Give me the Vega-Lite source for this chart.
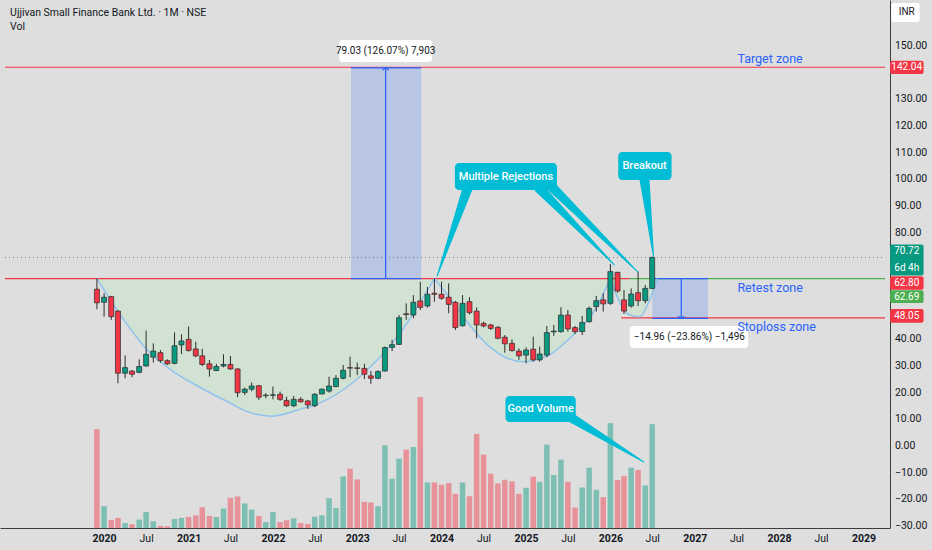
{
  "$schema": "https://vega.github.io/schema/vega-lite/v6.json",
  "width": 890,
  "height": 528,
  "autosize": "none",
  "padding": {"left": 0, "top": 0, "right": 42, "bottom": 22},
  "background": "#dedede",
  "config": {
    "view": {"stroke": null},
    "font": "Roboto",
    "axis": {"grid": false, "ticks": false, "domainColor": "#3c3c3c", "labelColor": "#131722", "labelFontSize": 10.5, "labelFont": "Roboto"}
  },
  "datasets": {
    "candles": [
      {"date": "2019-12-01", "o": 58.8, "h": 62.8, "l": 51.3, "c": 53.7, "v": 295},
      {"date": "2020-01-01", "o": 53.9, "h": 57.3, "l": 48.5, "c": 55.8, "v": 65},
      {"date": "2020-02-01", "o": 56.0, "h": 56.3, "l": 47.3, "c": 48.5, "v": 24},
      {"date": "2020-03-01", "o": 50.6, "h": 51.0, "l": 23.5, "c": 27.3, "v": 30},
      {"date": "2020-04-01", "o": 27.3, "h": 34.0, "l": 25.4, "c": 29.4, "v": 15},
      {"date": "2020-05-01", "o": 28.1, "h": 28.5, "l": 25.8, "c": 26.9, "v": 11},
      {"date": "2020-06-01", "o": 27.6, "h": 32.5, "l": 27.3, "c": 29.8, "v": 25},
      {"date": "2020-07-01", "o": 30.0, "h": 43.3, "l": 29.8, "c": 34.4, "v": 48},
      {"date": "2020-08-01", "o": 33.3, "h": 38.5, "l": 31.3, "c": 35.6, "v": 20},
      {"date": "2020-09-01", "o": 35.0, "h": 36.0, "l": 31.3, "c": 32.0, "v": 6},
      {"date": "2020-10-01", "o": 32.0, "h": 32.5, "l": 30.4, "c": 30.8, "v": 5},
      {"date": "2020-11-01", "o": 31.0, "h": 42.6, "l": 30.6, "c": 37.6, "v": 27},
      {"date": "2020-12-01", "o": 37.9, "h": 41.9, "l": 34.5, "c": 39.4, "v": 30},
      {"date": "2021-01-01", "o": 40.0, "h": 44.8, "l": 35.4, "c": 35.8, "v": 33},
      {"date": "2021-02-01", "o": 36.4, "h": 39.1, "l": 33.3, "c": 33.8, "v": 38},
      {"date": "2021-03-01", "o": 33.8, "h": 36.4, "l": 30.0, "c": 30.6, "v": 62},
      {"date": "2021-04-01", "o": 30.8, "h": 32.3, "l": 26.0, "c": 28.9, "v": 36},
      {"date": "2021-05-01", "o": 28.3, "h": 30.8, "l": 28.1, "c": 29.8, "v": 33},
      {"date": "2021-06-01", "o": 30.0, "h": 34.4, "l": 29.5, "c": 30.6, "v": 58},
      {"date": "2021-07-01", "o": 30.6, "h": 33.8, "l": 28.5, "c": 28.9, "v": 90},
      {"date": "2021-08-01", "o": 28.9, "h": 29.1, "l": 18.3, "c": 20.0, "v": 94},
      {"date": "2021-09-01", "o": 20.1, "h": 21.9, "l": 19.1, "c": 21.3, "v": 73},
      {"date": "2021-10-01", "o": 21.3, "h": 23.8, "l": 20.5, "c": 22.5, "v": 55},
      {"date": "2021-11-01", "o": 22.6, "h": 22.9, "l": 17.3, "c": 18.3, "v": 36},
      {"date": "2021-12-01", "o": 18.9, "h": 19.8, "l": 17.9, "c": 19.1, "v": 18},
      {"date": "2022-01-01", "o": 19.0, "h": 22.3, "l": 17.5, "c": 19.2, "v": 48},
      {"date": "2022-02-01", "o": 19.4, "h": 20.4, "l": 16.9, "c": 17.5, "v": 18},
      {"date": "2022-03-01", "o": 17.1, "h": 18.5, "l": 14.6, "c": 15.1, "v": 23},
      {"date": "2022-04-01", "o": 15.1, "h": 18.8, "l": 14.6, "c": 17.5, "v": 29},
      {"date": "2022-05-01", "o": 17.5, "h": 18.3, "l": 16.3, "c": 16.6, "v": 15},
      {"date": "2022-06-01", "o": 16.9, "h": 17.3, "l": 13.9, "c": 15.4, "v": 12},
      {"date": "2022-07-01", "o": 15.1, "h": 19.8, "l": 14.6, "c": 19.4, "v": 34},
      {"date": "2022-08-01", "o": 19.5, "h": 21.6, "l": 19.4, "c": 21.3, "v": 38},
      {"date": "2022-09-01", "o": 20.6, "h": 26.0, "l": 20.0, "c": 22.5, "v": 89},
      {"date": "2022-10-01", "o": 22.3, "h": 26.6, "l": 22.0, "c": 25.4, "v": 60},
      {"date": "2022-11-01", "o": 25.4, "h": 30.4, "l": 25.0, "c": 28.4, "v": 154},
      {"date": "2022-12-01", "o": 29.4, "h": 33.5, "l": 25.8, "c": 29.2, "v": 177},
      {"date": "2023-01-01", "o": 29.3, "h": 31.3, "l": 26.6, "c": 29.1, "v": 145},
      {"date": "2023-02-01", "o": 29.1, "h": 30.8, "l": 25.1, "c": 26.9, "v": 78},
      {"date": "2023-03-01", "o": 26.3, "h": 28.1, "l": 23.3, "c": 25.4, "v": 76},
      {"date": "2023-04-01", "o": 25.4, "h": 28.4, "l": 25.1, "c": 27.9, "v": 65},
      {"date": "2023-05-01", "o": 28.1, "h": 37.3, "l": 27.9, "c": 36.9, "v": 247},
      {"date": "2023-06-01", "o": 37.0, "h": 39.8, "l": 35.6, "c": 38.0, "v": 147},
      {"date": "2023-07-01", "o": 38.1, "h": 49.1, "l": 37.9, "c": 48.1, "v": 207},
      {"date": "2023-08-01", "o": 49.6, "h": 53.5, "l": 47.3, "c": 49.3, "v": 234},
      {"date": "2023-09-01", "o": 49.1, "h": 56.6, "l": 47.9, "c": 53.9, "v": 242},
      {"date": "2023-10-01", "o": 54.4, "h": 61.6, "l": 51.0, "c": 52.0, "v": 391},
      {"date": "2023-11-01", "o": 52.5, "h": 59.6, "l": 51.9, "c": 56.9, "v": 136},
      {"date": "2023-12-01", "o": 57.3, "h": 62.8, "l": 54.1, "c": 56.9, "v": 136},
      {"date": "2024-01-01", "o": 56.9, "h": 61.6, "l": 54.8, "c": 55.4, "v": 129},
      {"date": "2024-02-01", "o": 55.8, "h": 61.0, "l": 49.8, "c": 53.1, "v": 134},
      {"date": "2024-03-01", "o": 53.9, "h": 54.4, "l": 43.5, "c": 44.4, "v": 102},
      {"date": "2024-04-01", "o": 45.1, "h": 56.6, "l": 44.8, "c": 53.5, "v": 136},
      {"date": "2024-05-01", "o": 54.1, "h": 55.8, "l": 49.3, "c": 50.0, "v": 95},
      {"date": "2024-06-01", "o": 50.6, "h": 52.0, "l": 40.4, "c": 45.4, "v": 281},
      {"date": "2024-07-01", "o": 46.0, "h": 46.6, "l": 44.5, "c": 45.0, "v": 219},
      {"date": "2024-08-01", "o": 45.4, "h": 45.8, "l": 43.5, "c": 44.1, "v": 162},
      {"date": "2024-09-01", "o": 44.5, "h": 45.0, "l": 40.0, "c": 40.4, "v": 133},
      {"date": "2024-10-01", "o": 40.8, "h": 41.6, "l": 35.0, "c": 38.3, "v": 144},
      {"date": "2024-11-01", "o": 38.5, "h": 40.0, "l": 35.4, "c": 35.8, "v": 139},
      {"date": "2024-12-01", "o": 35.6, "h": 36.6, "l": 32.3, "c": 33.8, "v": 102},
      {"date": "2025-01-01", "o": 34.1, "h": 37.0, "l": 31.0, "c": 36.0, "v": 120},
      {"date": "2025-02-01", "o": 36.3, "h": 41.0, "l": 31.6, "c": 32.3, "v": 153},
      {"date": "2025-03-01", "o": 32.3, "h": 37.3, "l": 31.6, "c": 34.5, "v": 138},
      {"date": "2025-04-01", "o": 34.1, "h": 45.0, "l": 33.3, "c": 42.5, "v": 249},
      {"date": "2025-05-01", "o": 42.8, "h": 45.4, "l": 41.3, "c": 43.1, "v": 158},
      {"date": "2025-06-01", "o": 42.9, "h": 52.0, "l": 42.5, "c": 49.1, "v": 204},
      {"date": "2025-07-01", "o": 49.1, "h": 51.0, "l": 42.9, "c": 43.9, "v": 138},
      {"date": "2025-08-01", "o": 44.4, "h": 45.0, "l": 42.0, "c": 42.9, "v": 61},
      {"date": "2025-09-01", "o": 42.9, "h": 48.8, "l": 41.6, "c": 46.3, "v": 121},
      {"date": "2025-10-01", "o": 46.6, "h": 52.3, "l": 46.3, "c": 51.6, "v": 180},
      {"date": "2025-11-01", "o": 52.3, "h": 56.3, "l": 50.4, "c": 54.5, "v": 114},
      {"date": "2025-12-01", "o": 54.8, "h": 57.3, "l": 50.4, "c": 53.3, "v": 92},
      {"date": "2026-01-01", "o": 53.5, "h": 68.3, "l": 52.9, "c": 65.4, "v": 313},
      {"date": "2026-02-01", "o": 65.1, "h": 65.4, "l": 57.5, "c": 58.1, "v": 143},
      {"date": "2026-03-01", "o": 54.8, "h": 58.5, "l": 49.5, "c": 50.6, "v": 155},
      {"date": "2026-04-01", "o": 52.5, "h": 59.1, "l": 51.9, "c": 57.0, "v": 180},
      {"date": "2026-05-01", "o": 57.5, "h": 65.4, "l": 52.5, "c": 54.5, "v": 173},
      {"date": "2026-06-01", "o": 54.5, "h": 60.4, "l": 53.5, "c": 59.1, "v": 127},
      {"date": "2026-07-01", "o": 59.1, "h": 71.0, "l": 58.8, "c": 70.72, "v": 310}
    ],
    "cup": [
      {"seg": "a", "date": "2019-12-01", "p": 62.8},
      {"seg": "a", "date": "2020-03-17", "p": 48.5},
      {"seg": "a", "date": "2020-07-12", "p": 35.4},
      {"seg": "a", "date": "2020-11-04", "p": 27.4},
      {"seg": "a", "date": "2021-02-24", "p": 21.75},
      {"seg": "a", "date": "2021-06-19", "p": 16.6},
      {"seg": "a", "date": "2021-09-12", "p": 12.9},
      {"seg": "a", "date": "2021-12-28", "p": 11.2},
      {"seg": "a", "date": "2022-05-10", "p": 14.1},
      {"seg": "a", "date": "2022-07-01", "p": 15.4},
      {"seg": "a", "date": "2023-01-30", "p": 27.4},
      {"seg": "a", "date": "2023-06-24", "p": 41.0},
      {"seg": "a", "date": "2023-12-01", "p": 62.8},
      {"seg": "b", "date": "2023-12-01", "p": 62.8},
      {"seg": "b", "date": "2024-02-10", "p": 55.0},
      {"seg": "b", "date": "2024-05-07", "p": 44.75},
      {"seg": "b", "date": "2024-07-27", "p": 37.25},
      {"seg": "b", "date": "2024-12-17", "p": 31.6},
      {"seg": "b", "date": "2025-03-27", "p": 33.5},
      {"seg": "b", "date": "2025-07-16", "p": 41.0},
      {"seg": "b", "date": "2025-10-26", "p": 51.0},
      {"seg": "b", "date": "2026-01-01", "p": 62.8},
      {"seg": "c", "date": "2026-01-01", "p": 62.8},
      {"seg": "c", "date": "2026-02-12", "p": 53.6},
      {"seg": "c", "date": "2026-03-26", "p": 49.1},
      {"seg": "c", "date": "2026-05-08", "p": 48.5},
      {"seg": "c", "date": "2026-06-20", "p": 54.75},
      {"seg": "c", "date": "2026-07-24", "p": 62.8}
    ]
  },
  "encoding": {
    "x": {
      "field": "date",
      "type": "temporal",
      "title": null,
      "scale": {"domain": [{"year": 2018, "month": 10, "date": 29}, {"year": 2029, "month": 4, "date": 4}]},
      "axis": {
        "tickCount": {"interval": "month", "step": 6},
        "labelExpr": "year(datum.value) < 2020 ? '' : timeFormat(datum.value, month(datum.value) == 0 ? '%Y' : '%b')",
        "labelFontWeight": {"condition": {"test": "month(datum.value) == 0", "value": "bold"}, "value": "normal"},
        "labelPadding": 5,
        "labelFlush": false,
        "labelOverlap": false
      }
    }
  },
  "resolve": {"scale": {"y": "independent"}},
  "layer": [
    {
      "data": {"name": "candles"},
      "mark": {"type": "bar", "width": 5.5, "opacity": 0.45},
      "encoding": {
        "y": {"field": "v", "type": "quantitative", "scale": {"domain": [0, 1576]}, "axis": null},
        "color": {"condition": {"test": "datum.c >= datum.o", "value": "#089981"}, "value": "#f23645"}
      }
    },
    {
      "layer": [
        {
          "data": {"name": "cup"},
          "mark": {"type": "area", "interpolate": "monotone", "color": "#c8e6c9", "opacity": 0.55},
          "encoding": {
            "y": {"field": "p", "type": "quantitative", "title": null,
              "scale": {"domain": [-30.75, 167.25], "nice": false, "zero": false},
              "axis": {"orient": "right", "title": null, "labels": false, "values": [0]}},
            "y2": {"datum": 62.8},
            "detail": {"field": "seg"}
          }
        },
        {
          "data": {"values": [
            {"date": "2022-12-05", "date2": "2023-10-05", "p": 62.8, "p2": 141.83},
            {"date": "2026-07-02", "date2": "2027-02-28", "p": 62.8, "p2": 47.84}
          ]},
          "mark": {"type": "rect", "color": "#2962ff", "opacity": 0.2},
          "encoding": {
            "x2": {"field": "date2"},
            "y": {"field": "p", "type": "quantitative", "title": null},
            "y2": {"field": "p2"}
          }
        },
        {
          "data": {"values": [
            {"date": "2018-10-29", "date2": "2029-04-04", "p": 70.72}
          ]},
          "mark": {"type": "rule", "color": "#6f8580", "strokeDash": [1, 3], "strokeWidth": 1},
          "encoding": {
            "x2": {"field": "date2"},
            "y": {"field": "p", "type": "quantitative", "title": null}
          }
        },
        {
          "data": {"values": [
            {"kind": "red", "date": "2018-10-29", "date2": "2029-04-04", "p": 142.04},
            {"kind": "red", "date": "2018-10-29", "date2": "2026-03-26", "p": 62.8},
            {"kind": "green", "date": "2026-03-26", "date2": "2029-04-04", "p": 62.8},
            {"kind": "red", "date": "2026-02-17", "date2": "2029-04-04", "p": 48.05},
            {"kind": "blue", "date": "2022-12-05", "date2": "2023-10-05", "p": 141.83},
            {"kind": "blue", "date": "2022-12-05", "date2": "2023-10-05", "p": 62.8},
            {"kind": "blue", "date": "2026-07-02", "date2": "2027-02-28", "p": 62.8},
            {"kind": "blue", "date": "2026-07-02", "date2": "2027-02-28", "p": 47.84}
          ]},
          "mark": {"type": "rule", "strokeWidth": 1.2},
          "encoding": {
            "x2": {"field": "date2"},
            "y": {"field": "p", "type": "quantitative", "title": null},
            "color": {"condition": [
              {"test": "datum.kind == 'green'", "value": "#4caf50"},
              {"test": "datum.kind == 'blue'", "value": "#2962ff"}
            ], "value": "#f23645"}
          }
        },
        {
          "data": {"values": [
            {"date": "2023-05-04", "p": 62.8, "p2": 141.83},
            {"date": "2026-11-04", "p": 62.8, "p2": 47.84}
          ]},
          "mark": {"type": "rule", "color": "#2962ff", "strokeWidth": 1.3},
          "encoding": {
            "y": {"field": "p", "type": "quantitative", "title": null},
            "y2": {"field": "p2"}
          }
        },
        {
          "data": {"values": [
            {"dir": "up", "date": "2023-05-04", "p": 141.83},
            {"dir": "down", "date": "2026-11-04", "p": 47.84}
          ]},
          "mark": {"type": "point", "filled": false, "color": "#2962ff", "strokeWidth": 1.3, "size": 40, "opacity": 1},
          "encoding": {
            "y": {"field": "p", "type": "quantitative", "title": null},
            "shape": {"condition": {"test": "datum.dir == 'up'", "value": "M-1,0.7L0,0L1,0.7"}, "value": "M-1,-0.7L0,0L1,-0.7"}
          }
        },
        {
          "data": {"name": "cup"},
          "mark": {"type": "line", "interpolate": "monotone", "color": "#8fc3ee", "strokeWidth": 1.5},
          "encoding": {
            "y": {"field": "p", "type": "quantitative", "title": null},
            "detail": {"field": "seg"}
          }
        },
        {
          "data": {"name": "candles"},
          "mark": {"type": "rule", "color": "#2b2b2b", "strokeWidth": 1},
          "encoding": {
            "y": {"field": "l", "type": "quantitative", "title": null},
            "y2": {"field": "h"}
          }
        },
        {
          "data": {"name": "candles"},
          "mark": {"type": "bar", "width": 5, "stroke": "#2b2b2b", "strokeWidth": 0.7},
          "encoding": {
            "y": {"field": "o", "type": "quantitative", "title": null},
            "y2": {"field": "c"},
            "color": {"condition": {"test": "datum.c >= datum.o", "value": "#089981"}, "value": "#f23645"}
          }
        },
        {
          "data": {"values": [
            {"id": 1, "ord": 1, "date": "2024-04-23", "p": 96.75, "w": 10},
            {"id": 1, "ord": 2, "date": "2023-12-13", "p": 63.75, "w": 1},
            {"id": 2, "ord": 1, "date": "2025-02-26", "p": 96.75, "w": 10},
            {"id": 2, "ord": 2, "date": "2026-01-18", "p": 67.9, "w": 1},
            {"id": 3, "ord": 1, "date": "2025-04-18", "p": 97.5, "w": 10},
            {"id": 3, "ord": 2, "date": "2026-04-30", "p": 65.25, "w": 1},
            {"id": 4, "ord": 1, "date": "2026-05-29", "p": 99.75, "w": 10},
            {"id": 4, "ord": 2, "date": "2026-07-07", "p": 70.9, "w": 1},
            {"id": 5, "ord": 1, "date": "2025-06-26", "p": 11.6, "w": 10},
            {"id": 5, "ord": 2, "date": "2026-05-26", "p": -6.0, "w": 1}
          ]},
          "mark": {"type": "trail", "color": "#00bcd4"},
          "encoding": {
            "y": {"field": "p", "type": "quantitative", "title": null},
            "size": {"field": "w", "type": "quantitative", "scale": null, "legend": null},
            "detail": {"field": "id"},
            "order": {"field": "ord"}
          }
        },
        {
          "data": {"values": [
            {"date": "2024-02-28", "date2": "2025-05-15", "p": 106.1, "p2": 96.0},
            {"date": "2026-02-04", "date2": "2026-09-23", "p": 110.25, "p2": 99.75},
            {"date": "2024-10-04", "date2": "2025-08-04", "p": 18.75, "p2": 9.0}
          ]},
          "mark": {"type": "rect", "color": "#00bcd4", "cornerRadius": 4},
          "encoding": {
            "x2": {"field": "date2"},
            "y": {"field": "p", "type": "quantitative", "title": null},
            "y2": {"field": "p2"}
          }
        },
        {
          "data": {"values": [
            {"date": "2024-10-06", "p": 101.0, "label": "Multiple Rejections"},
            {"date": "2026-05-29", "p": 105.0, "label": "Breakout"},
            {"date": "2025-03-05", "p": 13.9, "label": "Good Volume"}
          ]},
          "mark": {"type": "text", "color": "#ffffff", "fontSize": 11, "fontWeight": 500, "baseline": "middle"},
          "encoding": {
            "y": {"field": "p", "type": "quantitative", "title": null},
            "text": {"field": "label"}
          }
        },
        {
          "data": {"values": [
            {"date": "2022-10-15", "date2": "2023-11-21", "p": 152.25, "p2": 144.0},
            {"date": "2026-03-26", "date2": "2027-08-21", "p": 45.0, "p2": 36.75}
          ]},
          "mark": {"type": "rect", "color": "#ffffff", "cornerRadius": 3},
          "encoding": {
            "x2": {"field": "date2"},
            "y": {"field": "p", "type": "quantitative", "title": null},
            "y2": {"field": "p2"}
          }
        },
        {
          "data": {"values": [
            {"date": "2023-05-04", "p": 148.1, "label": "79.03 (126.07%) 7,903"},
            {"date": "2026-12-09", "p": 40.9, "label": "−14.96 (−23.86%) −1,496"}
          ]},
          "mark": {"type": "text", "color": "#131722", "fontSize": 10, "baseline": "middle"},
          "encoding": {
            "y": {"field": "p", "type": "quantitative", "title": null},
            "text": {"field": "label"}
          }
        },
        {
          "data": {"values": [
            {"date": "2027-07-05", "p": 145.1, "label": "Target zone"},
            {"date": "2027-07-05", "p": 59.25, "label": "Retest zone"},
            {"date": "2027-07-05", "p": 44.6, "label": "Stoploss zone"}
          ]},
          "mark": {"type": "text", "color": "#2962ff", "fontSize": 12.5, "align": "left", "baseline": "middle"},
          "encoding": {
            "y": {"field": "p", "type": "quantitative", "title": null},
            "text": {"field": "label"}
          }
        },
        {
          "data": {"values": [
            {"date": "2018-11-20", "p": 162.4, "label": "Ujjivan Small Finance Bank Ltd. · 1M · NSE", "main": true},
            {"date": "2018-11-20", "p": 157.1, "label": "Vol", "main": false}
          ]},
          "mark": {"type": "text", "color": "#131722", "fontSize": 10.5, "align": "left", "baseline": "middle"},
          "encoding": {
            "y": {"field": "p", "type": "quantitative", "title": null},
            "text": {"field": "label"},
            "fontWeight": {"condition": {"test": "datum.main", "value": 600}, "value": 400}
          }
        },
        {
          "data": {"values": [
            {"date": "2029-05-17", "p": 150, "label": "150.00"},
            {"date": "2029-05-17", "p": 130, "label": "130.00"},
            {"date": "2029-05-17", "p": 120, "label": "120.00"},
            {"date": "2029-05-17", "p": 110, "label": "110.00"},
            {"date": "2029-05-17", "p": 100, "label": "100.00"},
            {"date": "2029-05-17", "p": 90, "label": "90.00"},
            {"date": "2029-05-17", "p": 80, "label": "80.00"},
            {"date": "2029-05-17", "p": 40, "label": "40.00"},
            {"date": "2029-05-17", "p": 30, "label": "30.00"},
            {"date": "2029-05-17", "p": 20, "label": "20.00"},
            {"date": "2029-05-17", "p": 10, "label": "10.00"},
            {"date": "2029-05-17", "p": 0, "label": "0.00"},
            {"date": "2029-05-17", "p": -10, "label": "−10.00"},
            {"date": "2029-05-17", "p": -20, "label": "−20.00"},
            {"date": "2029-05-17", "p": -30, "label": "−30.00"}
          ]},
          "mark": {"type": "text", "color": "#131722", "fontSize": 10.5, "align": "left", "baseline": "middle"},
          "encoding": {
            "y": {"field": "p", "type": "quantitative", "title": null},
            "text": {"field": "label"},
            "fontWeight": {"condition": {"test": "datum.p == 0 || datum.p == 100 || datum.p == 150", "value": 600}, "value": 400}
          }
        },
        {
          "data": {"values": [
            {"kind": "white", "date": "2029-05-01", "date2": "2029-09-01", "p": 166.1, "p2": 159.0},
            {"kind": "red", "date": "2029-04-26", "date2": "2029-09-18", "p": 144.5, "p2": 139.5},
            {"kind": "teal", "date": "2029-04-26", "date2": "2029-09-18", "p": 75.6, "p2": 63.9},
            {"kind": "red", "date": "2029-04-26", "date2": "2029-09-18", "p": 63.7, "p2": 58.6},
            {"kind": "green", "date": "2029-04-26", "date2": "2029-09-18", "p": 58.4, "p2": 53.6},
            {"kind": "red", "date": "2029-04-26", "date2": "2029-09-18", "p": 51.4, "p2": 46.2}
          ]},
          "mark": {"type": "rect", "cornerRadius": 2},
          "encoding": {
            "x2": {"field": "date2"},
            "y": {"field": "p", "type": "quantitative", "title": null},
            "y2": {"field": "p2"},
            "color": {"condition": [
              {"test": "datum.kind == 'white'", "value": "#ffffff"},
              {"test": "datum.kind == 'teal'", "value": "#089981"},
              {"test": "datum.kind == 'green'", "value": "#4caf50"}
            ], "value": "#f23645"}
          }
        },
        {
          "data": {"values": [
            {"date": "2029-07-07", "p": 162.6, "label": "INR", "dark": true},
            {"date": "2029-07-07", "p": 142.0, "label": "142.04", "dark": false},
            {"date": "2029-07-07", "p": 73.1, "label": "70.72", "dark": false},
            {"date": "2029-07-07", "p": 66.9, "label": "6d 4h", "dark": false},
            {"date": "2029-07-07", "p": 61.1, "label": "62.80", "dark": false},
            {"date": "2029-07-07", "p": 56.0, "label": "62.69", "dark": false},
            {"date": "2029-07-07", "p": 48.8, "label": "48.05", "dark": false}
          ]},
          "mark": {"type": "text", "fontSize": 10, "baseline": "middle"},
          "encoding": {
            "y": {"field": "p", "type": "quantitative", "title": null},
            "text": {"field": "label"},
            "color": {"condition": {"test": "datum.dark", "value": "#131722"}, "value": "#ffffff"}
          }
        }
      ]
    }
  ]
}
